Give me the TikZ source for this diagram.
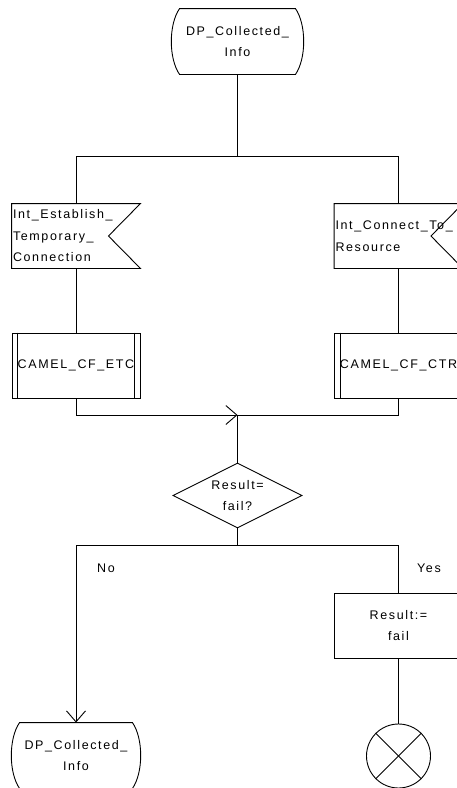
\documentclass[tikz,border=0pt]{standalone}
\usepackage{fontspec}
\setmainfont{Liberation Sans}[LetterSpace=13]
\usepackage{tikz}
\usetikzlibrary{positioning,arrows.meta,shapes.geometric}

% outline of a state symbol (curved sides)
\newcommand{\drawstate}[1]{%
  \draw ([xshift=8pt]#1.north west) -- ([xshift=-8pt]#1.north east)
    .. controls ([xshift=3pt,yshift=-16pt]#1.north east) and ([xshift=3pt,yshift=16pt]#1.south east)
    .. ([xshift=-8pt]#1.south east)
    -- ([xshift=8pt]#1.south west)
    .. controls ([xshift=-3pt,yshift=16pt]#1.south west) and ([xshift=-3pt,yshift=-16pt]#1.north west)
    .. ([xshift=8pt]#1.north west) -- cycle;}

\begin{document}
\begin{tikzpicture}[x=1pt, y=-1pt, line width=0.9pt,
  font={\fontsize{12.5pt}{21.5pt}\selectfont},
  state/.style={minimum width=131pt, minimum height=65pt, align=center, inner sep=1pt},
  signal/.style={minimum width=128pt, minimum height=64pt, text width=126pt, align=left, inner sep=1pt},
  proc/.style={draw, minimum width=128pt, minimum height=65pt, inner sep=1pt},
  task/.style={draw, minimum width=128pt, minimum height=65pt, align=center},
  decision/.style={draw, diamond, aspect=2, minimum width=129pt, minimum height=65pt, inner sep=0pt, align=center},
  stop/.style={draw, circle, minimum size=64pt, inner sep=0pt},
  arr/.style={-{Straight Barb[length=11pt,width=19pt]}}]
  \useasboundingbox (0,0) rectangle (457,788);
  \clip (0,0) rectangle (457,788);
  % states
  \node[state] (dpTop) at (237.5,41.5) {DP\_Collected\_\\Info};
  \drawstate{dpTop}
  \node[state, minimum width=128pt] (dpEnd) at (76,755.5) {DP\_Collected\_\\Info};
  \drawstate{dpEnd}
  % input signals
  \node[signal] (sigEtc) at (76,236) {Int\_Establish\_\\Temporary\_\\Connection};
  \draw (sigEtc.north west) -- (sigEtc.north east) -- ([xshift=-32pt]sigEtc.east)
    -- (sigEtc.south east) -- (sigEtc.south west) -- cycle;
  \node[signal] (sigCtr) at (398.5,236) {Int\_Connect\_To\_\\Resource};
  \draw (sigCtr.north west) -- (sigCtr.north east) -- ([xshift=-32pt]sigCtr.east)
    -- (sigCtr.south east) -- (sigCtr.south west) -- cycle;
  % procedures
  \node[proc] (procEtc) at (76,365.5) {CAMEL\_CF\_ETC};
  \draw ([xshift=6pt]procEtc.north west) -- ([xshift=6pt]procEtc.south west);
  \draw ([xshift=-6pt]procEtc.north east) -- ([xshift=-6pt]procEtc.south east);
  \node[proc] (procCtr) at (398.5,365.5) {CAMEL\_CF\_CTR};
  \draw ([xshift=6pt]procCtr.north west) -- ([xshift=6pt]procCtr.south west);
  \draw ([xshift=-6pt]procCtr.north east) -- ([xshift=-6pt]procCtr.south east);
  % decision and result
  \node[decision] (failQ) at (237.5,495.5) {Result=\\fail?};
  \node[task] (setFail) at (398.5,625.5) {Result:=\\fail};
  \node[stop] (stopA) at (398.5,756) {};
  \draw (stopA.north west) -- (stopA.south east);
  \draw (stopA.north east) -- (stopA.south west);
  \node (lblNo) at (106,568) {No};
  \node (lblYes) at (429,568) {Yes};
  % connectors
  \coordinate (split) at (237.5,156);
  \coordinate (join) at (237.5,415);
  \coordinate (branch) at (237.5,545);
  \draw (dpTop.south) -- (split);
  \draw (split) -| (sigEtc.north);
  \draw (split) -| (sigCtr.north);
  \draw (sigEtc.south) -- (procEtc.north);
  \draw (sigCtr.south) -- (procCtr.north);
  \draw[arr] (procEtc.south) |- (join);
  \draw (procCtr.south) |- (join);
  \draw (join) -- (failQ.north);
  \draw (failQ.south) -- (branch);
  \draw[arr] (branch) -| (dpEnd.north);
  \draw (branch) -| (setFail.north);
  \draw (setFail.south) -- (stopA.north);
\end{tikzpicture}
\end{document}
